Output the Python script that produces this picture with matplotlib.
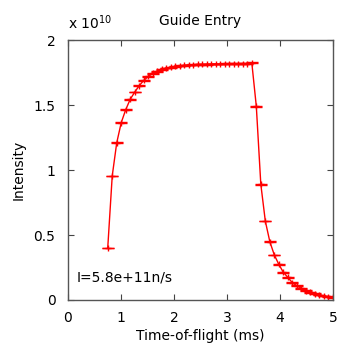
import matplotlib
matplotlib.use("Agg")
import matplotlib.pyplot as plt
import numpy as np

plt.rcParams['font.family'] = ['DejaVu Sans']

# time-of-flight bins (ms)
tof = [0.75, 0.835, 0.92, 1.005, 1.09, 1.175, 1.26, 1.345, 1.43, 1.515,
       1.60, 1.685, 1.77, 1.855, 1.94, 2.025, 2.11, 2.195, 2.28, 2.365,
       2.45, 2.535, 2.62, 2.705, 2.79, 2.875, 2.96, 3.045, 3.13, 3.215,
       3.30, 3.385, 3.47, 3.555, 3.64, 3.725, 3.81, 3.895, 3.98, 4.065,
       4.15, 4.235, 4.32, 4.405, 4.49, 4.575, 4.66, 4.745, 4.83, 4.915, 5.0]
# intensity in units of 1e10
intensity = [0.40, 0.955, 1.21, 1.365, 1.465, 1.545, 1.60, 1.65, 1.69, 1.72,
             1.745, 1.76, 1.775, 1.785, 1.792, 1.798, 1.802, 1.806, 1.809, 1.811,
             1.813, 1.814, 1.815, 1.816, 1.817, 1.817, 1.818, 1.818, 1.819, 1.819,
             1.82, 1.82, 1.825, 1.49, 0.89, 0.607, 0.449, 0.346, 0.274, 0.213,
             0.174, 0.133, 0.11, 0.09, 0.072, 0.058, 0.047, 0.038, 0.031, 0.025, 0.02]
intensity_err = [0.003] * len(tof)

xticks = [0, 1, 2, 3, 4, 5]
yticks = [0, 0.5, 1, 1.5, 2]

fig = plt.figure(figsize=(3.4, 3.55), dpi=100)
ax = fig.add_axes([0.2, 0.155, 0.779, 0.732])

ax.errorbar(tof, intensity, yerr=intensity_err, color='red', lw=1,
            elinewidth=1, capsize=4, capthick=1, marker='+', ms=5, mew=1)

ax.set_xlim(0, 5)
ax.set_ylim(0, 2)
ax.set_xticks(xticks)
ax.set_yticks(yticks)
ax.set_xticklabels([f"{t:g}" for t in xticks])
ax.set_yticklabels([f"{t:g}" for t in yticks])
ax.tick_params(direction='in', top=True, right=True, length=4, labelsize=10,
               color='#444444')
ax.tick_params(axis='x', pad=8)
ax.tick_params(axis='y', pad=9)
for s in ax.spines.values():
    s.set_color('#555555')
    s.set_linewidth(1)

ax.set_xlabel('Time-of-flight (ms)', fontsize=10, labelpad=3)
ax.set_ylabel('Intensity', fontsize=10, labelpad=6)
ax.set_title('Guide Entry', fontsize=10, pad=11)
ax.text(0.0, 1.03, r'x 10$^{10}$', transform=ax.transAxes, fontsize=10,
        ha='left', va='bottom')
ax.text(0.17, 0.17, 'I=5.8e+11n/s', fontsize=10, ha='left', va='center')

fig.savefig('out.png', dpi=100)
